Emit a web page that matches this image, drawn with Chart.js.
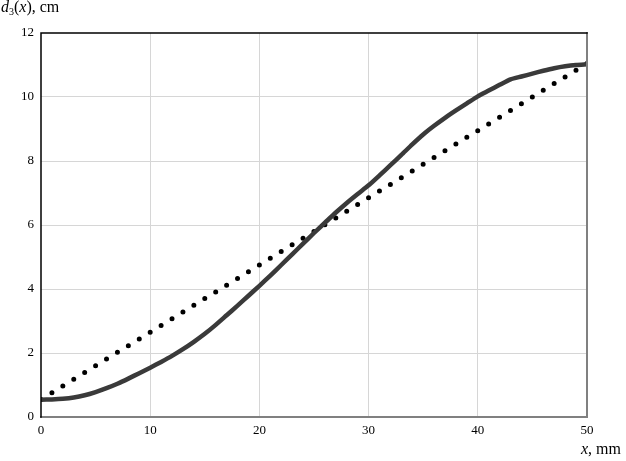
<!DOCTYPE html>
<html>
<head>
<meta charset="utf-8">
<script src="https://cdn.jsdelivr.net/npm/chart.js@4/dist/chart.umd.min.js"></script>
<style>
  body { margin: 0; background: #fff; }
  #wrap { position: relative; width: 626px; height: 461px; font-family: "Liberation Serif", "Times New Roman", serif; }
  .ttl { position: absolute; font-size: 16px; color: #000; white-space: nowrap; }
  .ttl sub { font-size: 10px; vertical-align: -3px; line-height: 0; }
</style>
</head>
<body>
<div id="wrap">
  <canvas id="chart" width="626" height="461"></canvas>
  <div class="ttl" style="left:1px; top:-2px;"><i>d</i><sub>3</sub>(<i>x</i>), cm</div>
  <div class="ttl" style="left:581px; top:440px;"><i>x</i>, mm</div>
</div>
<script>
// solid curve d3(x) at 1 mm steps
const xs = [0,1,2,3,4,5,6,7,8,9,10,11,12,13,14,15,16,17,18,19,20,21,22,23,24,25,
            26,27,28,29,30,31,32,33,34,35,36,37,38,39,40,41,42,43,44,45,46,47,48,49,50];
const curve = [0.54,0.55,0.57,0.61,0.68,0.78,0.9,1.04,1.2,1.37,1.54,1.72,1.91,2.12,2.35,2.6,2.88,3.18,3.48,3.79,4.1,
               4.42,4.75,5.08,5.42,5.75,6.07,6.39,6.69,6.97,7.24,7.55,7.87,8.19,8.52,8.83,9.1,9.35,9.58,9.8,10.02,
               10.2,10.38,10.55,10.64,10.73,10.82,10.9,10.96,11.0,11.02];

// dotted straight line, end points
const lineX = [0, 50];
const lineY = [0.55, 11.05];

const xTicks = [0, 10, 20, 30, 40, 50];
const yTicks = [0, 2, 4, 6, 8, 10, 12];

const FONT = { family: '"Liberation Serif", "Times New Roman", serif', size: 13 };

const frame = {
  id: 'frame',
  afterDraw(chart) {
    const { ctx, chartArea: a } = chart;
    ctx.save();
    ctx.lineCap = 'square';
    ctx.strokeStyle = '#808080';
    ctx.lineWidth = 2;
    ctx.beginPath();
    ctx.moveTo(a.left, a.bottom); ctx.lineTo(a.right, a.bottom); ctx.lineTo(a.right, a.top);
    ctx.stroke();
    ctx.strokeStyle = '#000';
    ctx.lineWidth = 1.5;
    ctx.beginPath();
    ctx.moveTo(a.left, a.bottom); ctx.lineTo(a.left, a.top); ctx.lineTo(a.right, a.top);
    ctx.stroke();
    ctx.restore();
  }
};

new Chart(document.getElementById('chart'), {
  type: 'line',
  data: {
    datasets: [
      {
        data: xs.map((x, i) => ({ x, y: curve[i] })),
        borderColor: '#3a3a3a',
        borderWidth: 4.5,
        pointRadius: 0,
        tension: 0.2,
      },
      {
        data: lineX.map((x, i) => ({ x, y: lineY[i] })),
        borderColor: '#000',
        borderWidth: 5,
        borderDash: [0, 12.82],
        borderCapStyle: 'round',
        pointRadius: 0,
      },
    ],
  },
  options: {
    responsive: false,
    animation: false,
    layout: { padding: { left: 0, top: 33, right: 39, bottom: 0 } },
    plugins: { legend: { display: false }, tooltip: { enabled: false } },
    scales: {
      x: {
        type: 'linear', min: 0, max: 50,
        afterBuildTicks: s => { s.ticks = xTicks.map(v => ({ value: v })); },
        afterFit: s => { s.height = 44; },
        ticks: { font: FONT, color: '#000', padding: 6, maxRotation: 0 },
        grid: {
          drawTicks: false,
          color: c => (c.tick && (c.tick.value === 0 || c.tick.value === 50)) ? 'rgba(0,0,0,0)' : '#d6d6d6',
        },
        border: { display: false },
      },
      y: {
        type: 'linear', min: 0, max: 12,
        afterBuildTicks: s => { s.ticks = yTicks.map(v => ({ value: v })); },
        afterFit: s => { s.width = 41; },
        ticks: { font: FONT, color: '#000', padding: 7 },
        grid: {
          drawTicks: false,
          color: c => (c.tick && (c.tick.value === 0 || c.tick.value === 12)) ? 'rgba(0,0,0,0)' : '#d6d6d6',
        },
        border: { display: false },
      },
    },
  },
  plugins: [frame],
});
</script>
</body>
</html>
